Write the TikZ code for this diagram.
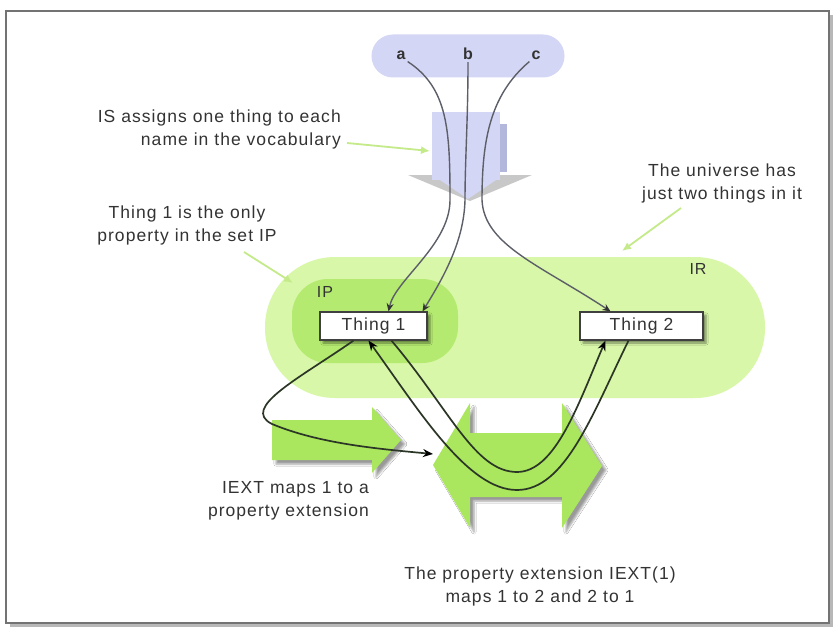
\documentclass[tikz,border=0pt]{standalone}
\usepackage{fontspec}
\setmainfont{Liberation Sans}[LetterSpace=6]
\usetikzlibrary{arrows.meta,shadows.blur}

\definecolor{lav}{HTML}{D4D6F5}
\definecolor{lavdark}{HTML}{B4B7DC}
\definecolor{irgreen}{HTML}{D8F7A8}
\definecolor{ipgreen}{HTML}{B4EA70}
\definecolor{arrowgreen}{HTML}{AAE65E}
\definecolor{notegreen}{HTML}{C4EA8A}
\definecolor{txt}{HTML}{333333}
\definecolor{wire}{HTML}{5C5E68}
\definecolor{loopline}{HTML}{2B3626}

\tikzset{
  note/.style={text=txt, font=\fontsize{17.5}{23}\selectfont, inner sep=0pt},
  letter/.style={text=txt, font=\bfseries\fontsize{16}{20}\selectfont, inner sep=2pt},
  setlabel/.style={text=txt, font=\fontsize{16}{20}\selectfont, inner sep=0pt},
  thingbox/.style={draw=black!75, line width=1.2pt, fill=white, text=txt,
    font=\fontsize{17.5}{20}\selectfont, minimum height=28pt, inner sep=0pt,
    blur shadow={shadow xshift=3pt, shadow yshift=-3pt, shadow opacity=45}},
  wire/.style={draw=wire, line width=1.4pt, -{Stealth[length=8pt,width=7pt,color=black!80]}},
  loop/.style={draw=loopline, line width=1.7pt, -{Stealth[length=10pt,width=8pt,color=black]}},
  callout/.style={draw=notegreen, line width=1.8pt, -{Latex[length=9pt,width=8pt]}},
  bigarrow/.style={fill=arrowgreen,
    blur shadow={shadow xshift=4pt, shadow yshift=-4pt, shadow opacity=40}},
}

\begin{document}
\begin{tikzpicture}[x=1pt,y=-1pt]
\useasboundingbox (0,0) rectangle (834,631);

% page frame with its drop shadow
\draw[black!28, line width=2.8pt] (10,625.5) -- (831.5,625.5) -- (831.5,15);
\draw[black!55, line width=1.2pt, fill=white] (6,11) rectangle (829,623);

% vocabulary of names
\node[fill=lav, rounded corners=21.5pt, minimum width=193pt, minimum height=43pt, inner sep=0pt] (vocab) at (468,56) {};
\node[letter] (na) at (401,55) {a};
\node[letter] (nb) at (468,54) {b};
\node[letter] (nc) at (536,55) {c};

% IS: the downward mapping block
\fill[black!30, opacity=0.7] (408,175) -- (532,175) -- (470,201) -- cycle;
\fill[lavdark] (500,124) rectangle (507,172);
\fill[lav] (432,112) rectangle (500,180);
\fill[lav] (440,180) -- (496,180) -- (468,199) -- cycle;
\coordinate (isblock) at (430,151);

% IR: the universe
\node[fill=irgreen, rounded corners=70pt, minimum width=500pt, minimum height=141pt, inner sep=0pt] (IRset) at (515,327.5) {};
\node[setlabel] (irlabel) at (698,269) {IR};

% IP: the properties
\node[fill=ipgreen, rounded corners=36pt, minimum width=166pt, minimum height=84pt, inner sep=0pt] (IPset) at (375,321) {};
\node[setlabel] (iplabel) at (325,292) {IP};

% the two things
\node[thingbox, minimum width=107pt] (t1) at (373.5,326) {Thing 1};
\node[thingbox, minimum width=123pt] (t2) at (641.5,326) {Thing 2};

% IEXT arrow
\fill[bigarrow] (272,420) -- (372,420) -- (372,407) -- (401,440) -- (372,473) -- (372,460) -- (272,460) -- cycle;
% the property extension IEXT(1)
\fill[bigarrow] (433,465) -- (470,403) -- (470,433) -- (562,433) -- (562,403) -- (602,466) -- (562,528) -- (562,497) -- (470,497) -- (470,528) -- cycle;
\coordinate (exttip) at (433,454);

% names mapped by IS
\draw[wire] (na.south east) .. controls (448,88) and (450,130) .. (450,200)
  .. controls (450,245) and (395,280) .. ([xshift=15pt]t1.north);
\draw[wire] (nb.south) .. controls (468,120) and (465,160) .. (465,200)
  .. controls (464,240) and (445,275) .. ([xshift=49pt]t1.north);
\draw[wire] (nc.south west) .. controls (490,95) and (482,140) .. (482,200)
  .. controls (484,245) and (540,265) .. ([xshift=-31pt]t2.north);

% IEXT maps thing 1 to its extension
\draw[loop] ([xshift=-20pt]t1.south) .. controls (300,378) and (240,408) .. (272,424)
  .. controls (320,444) and (380,449) .. (exttip);
% IEXT(1) pairs
\draw[loop] ([xshift=18pt]t1.south) .. controls (450,410) and (475,472) .. (517,472)
  .. controls (555,472) and (578,405) .. ([xshift=-36pt]t2.south);
\draw[loop] ([xshift=-13pt]t2.south) .. controls (592,415) and (565,490) .. (517,490)
  .. controls (468,490) and (420,412) .. ([xshift=-5pt]t1.south);

% notes
\node[note, align=right, anchor=east] (isnote) at (341,129) {IS assigns one thing to each\\name in the vocabulary};
\node[note, align=center] (ipnote) at (187,225) {Thing 1 is the only\\property in the set IP};
\node[note, align=center] (unote) at (722,183) {The universe has\\just two things in it};
\node[note, align=right, anchor=east] (iextnote) at (369,501) {IEXT maps 1 to a\\property extension};
\node[note, align=center] (pextnote) at (540,586) {The property extension IEXT(1)\\maps 1 to 2 and 2 to 1};

\coordinate (isnotetail) at (347,143);
\coordinate (ipnotetail) at (244,252);
\coordinate (unotetail) at (681,208);
\coordinate (iptarget) at (293,283);
\coordinate (irtarget) at (622,251);
\draw[callout] (isnotetail) -- (isblock);
\draw[callout] (ipnotetail) -- (iptarget);
\draw[callout] (unotetail) -- (irtarget);
\end{tikzpicture}
\end{document}
